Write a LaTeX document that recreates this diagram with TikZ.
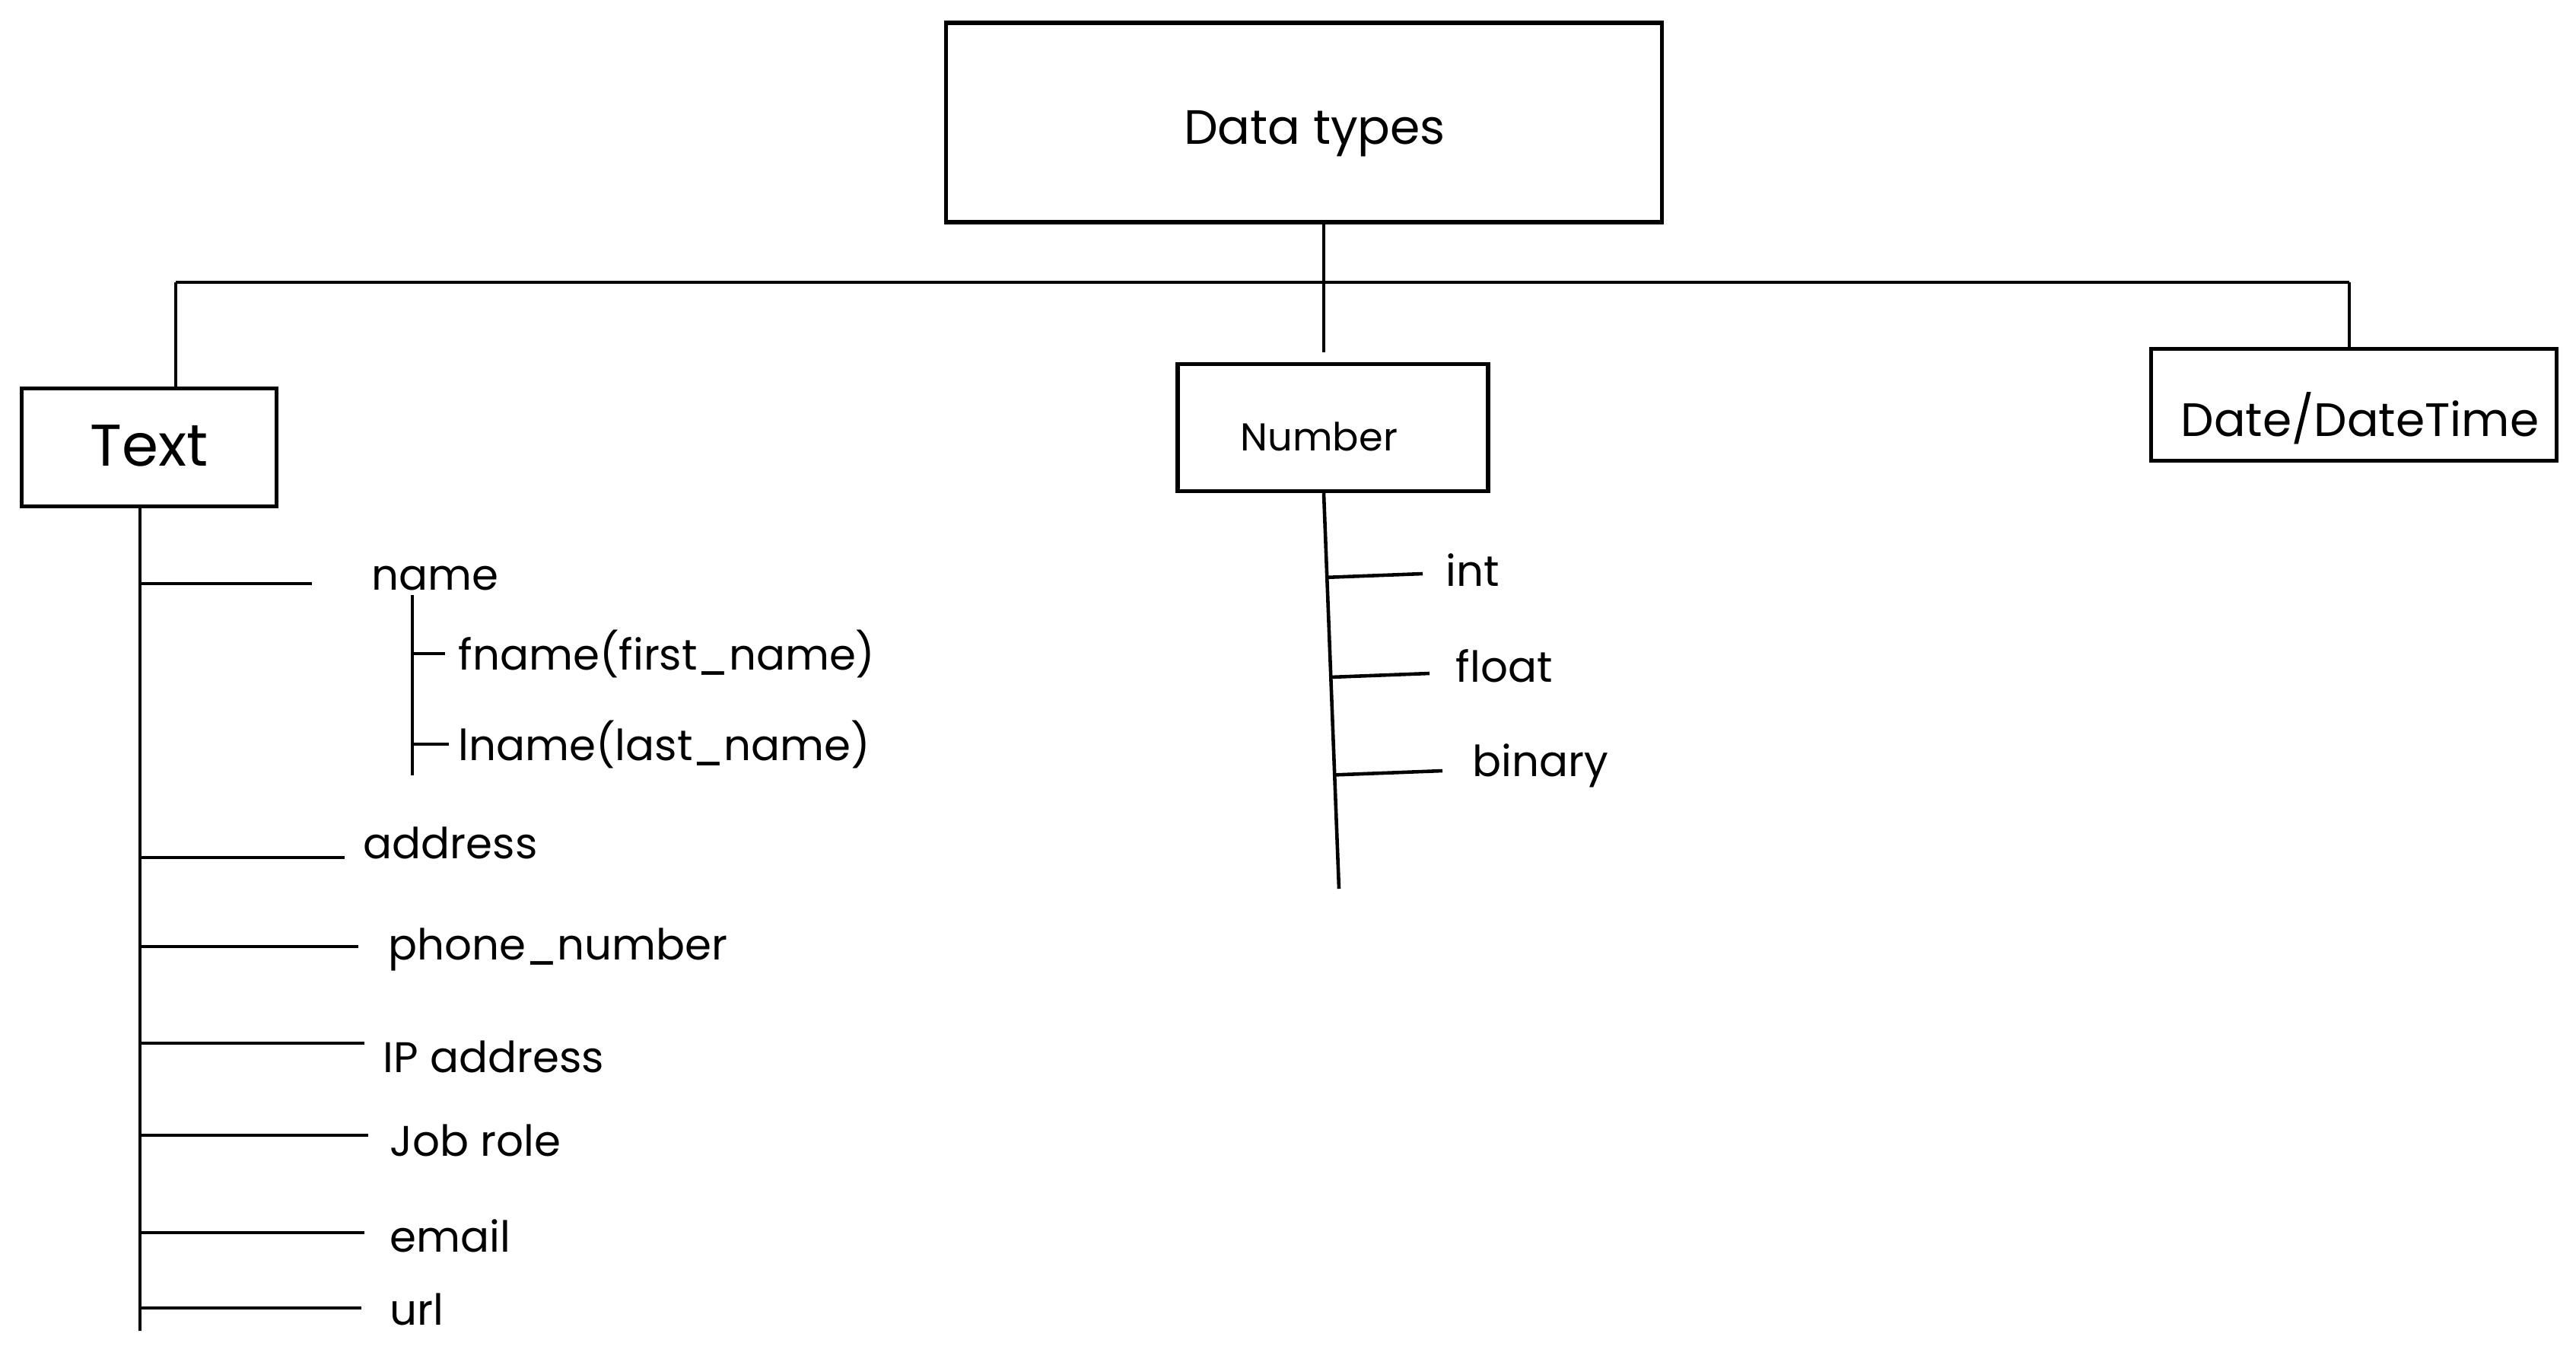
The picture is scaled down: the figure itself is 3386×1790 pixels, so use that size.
\documentclass[tikz,border=0pt]{standalone}
\usepackage{fontspec}
\setmainfont{Poppins}
\usetikzlibrary{positioning,calc}

\tikzset{
  box/.style={draw, line width=1.5pt, inner sep=0pt, text depth=0pt},
  lbl/.style={anchor=west, inner sep=0pt, font=\fontsize{16}{19}\selectfont},
  strich/.style={line width=1.3pt}
}

\begin{document}
\begin{tikzpicture}[x=0.01cm, y=-0.01cm]
\useasboundingbox (0,0) rectangle (3386,1790);
%Oberster Block
\node[box, minimum width=9.41cm, minimum height=2.62cm, font=\fontsize{18}{22}\selectfont,
  text height=0.7em+0.32cm] (data) at (1714,161) {\hspace*{0.28cm}Data types};
%Drei Kategorien
\node[box, minimum width=3.35cm, minimum height=1.55cm, font=\fontsize{22}{26}\selectfont,
  text height=0.7em+0.24cm] (text) at (196,588) {Text};
\node[box, minimum width=4.08cm, minimum height=1.67cm, font=\fontsize{14.5}{18}\selectfont,
  text height=0.7em+0.36cm] (num) at (1752,562) {\hspace*{-0.36cm}Number};
\node[box, minimum width=5.33cm, minimum height=1.47cm, font=\fontsize{17.5}{21}\selectfont,
  text height=0.7em+0.58cm] (date) at (3094,532) {\hspace*{0.16cm}Date/DateTime};

%Verbindungen oben
\coordinate (hub) at (1740,371);
\coordinate (lft) at (231,371);
\coordinate (rgt) at (3088,371);
\draw[strich, shorten >=0.13cm] (hub |- data.south) -- (hub |- num.north);
\draw[strich] (lft) -- (rgt);
\draw[strich] (lft) -- (lft |- text.north);
\draw[strich] (rgt) -- (rgt |- date.north);

%Text-Zweig
\coordinate (tbot) at (184,1749);
\draw[strich] (tbot |- text.south) -- (tbot);
\node[lbl] (tname) at (488,760) {name};
\node[lbl] (taddr) at (477,1108) {address};
\node[lbl] (tphone) at (510,1248) {phone\_number};
\node[lbl] (tip) at (503,1389) {IP address};
\node[lbl] (tjob) at (512,1499) {Job role};
\node[lbl] (tmail) at (512,1624) {email};
\node[lbl] (turl) at (512,1721) {url};
\coordinate (bname) at (410,767);
\coordinate (baddr) at (453,1127);
\coordinate (bphone) at (471,1244);
\coordinate (bip) at (479,1371);
\coordinate (bjob) at (484,1492);
\coordinate (bmail) at (479,1620);
\coordinate (burl) at (475,1719);
\draw[strich] (tbot |- bname) -- (bname);
\draw[strich] (tbot |- baddr) -- (baddr);
\draw[strich] (tbot |- bphone) -- (bphone);
\draw[strich] (tbot |- bip) -- (bip);
\draw[strich] (tbot |- bjob) -- (bjob);
\draw[strich] (tbot |- bmail) -- (bmail);
\draw[strich] (tbot |- burl) -- (burl);
% Unterteilung von name
\coordinate (nmbot) at (542,1019);
\draw[strich] (nmbot |- 0,782) -- (nmbot);
\node[lbl] (tfname) at (602,859) {fname(first\_name)};
\node[lbl] (tlname) at (602,978) {lname(last\_name)};
\coordinate (bfn) at (585,859);
\coordinate (bln) at (590,978);
\draw[strich] (nmbot |- bfn) -- (bfn);
\draw[strich] (nmbot |- bln) -- (bln);

%Number-Zweig
\coordinate (nbot) at (1760,1168);
\draw[strich] (hub |- num.south) -- (nbot);
\node[lbl] (nint) at (1900,749) {int};
\node[lbl] (nflt) at (1913,875) {float};
\node[lbl] (nbin) at (1935,1006) {binary};
\coordinate (bint) at (1870,754);
\coordinate (bflt) at (1879,885);
\coordinate (bbin) at (1896,1013);
\draw[strich] ($(hub |- num.south)!(bint)!(nbot)$) -- (bint);
\draw[strich] ($(hub |- num.south)!(bflt)!(nbot)$) -- (bflt);
\draw[strich] ($(hub |- num.south)!(bbin)!(nbot)$) -- (bbin);

\end{tikzpicture}
\end{document}
